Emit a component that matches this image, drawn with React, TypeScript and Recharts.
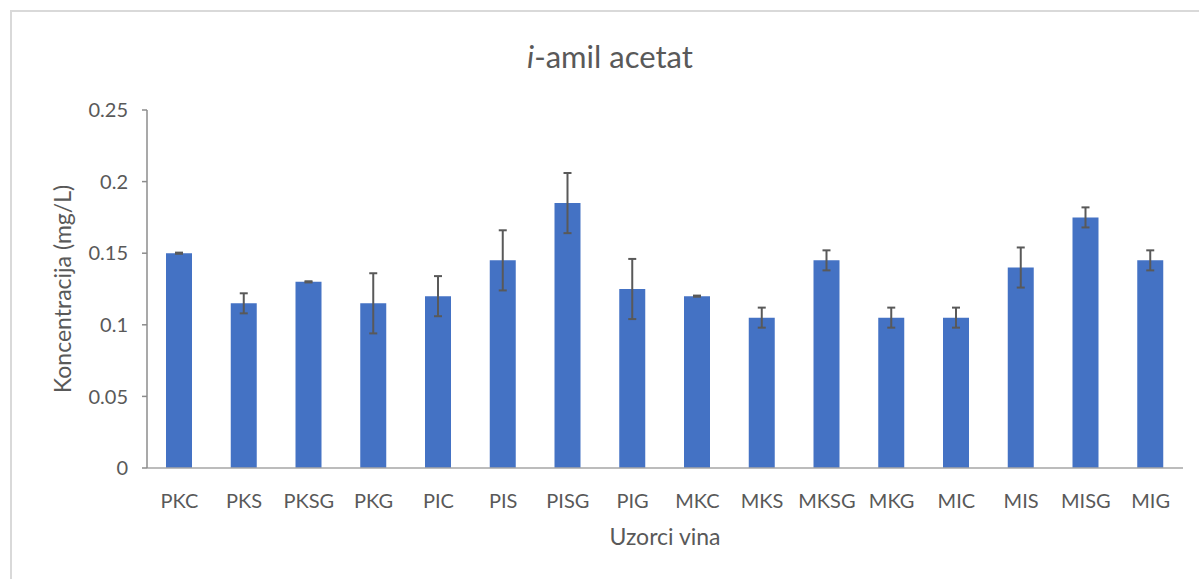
import React from "react";
import { BarChart, Bar, XAxis, YAxis, ErrorBar, Label } from "recharts";

const categories = ["PKC", "PKS", "PKSG", "PKG", "PIC", "PIS", "PISG", "PIG", "MKC", "MKS", "MKSG", "MKG", "MIC", "MIS", "MISG", "MIG"];
const values = [0.15, 0.115, 0.13, 0.115, 0.12, 0.145, 0.185, 0.125, 0.12, 0.105, 0.145, 0.105, 0.105, 0.14, 0.175, 0.145];
const errors = [0.0004, 0.007, 0.0004, 0.021, 0.014, 0.021, 0.021, 0.021, 0.0004, 0.007, 0.007, 0.007, 0.007, 0.014, 0.007, 0.007];
const yTicks = [0, 0.05, 0.1, 0.15, 0.2, 0.25];

const data = categories.map((name, i) => ({ name, value: values[i], err: errors[i] }));

const FONT = "Lato, 'Open Sans', sans-serif";
const TEXT = "#595959";

const App: React.FC = () => (
    <div style={{ position: "absolute", left: 0, top: 0, width: 1199, height: 579, overflow: "hidden", background: "#fff", fontFamily: FONT }}>
        <div
            style={{
                position: "absolute",
                left: 10,
                top: 10,
                width: 1220,
                height: 620,
                border: "2px solid #d9d9d9",
                boxSizing: "border-box",
            }}
        />
        <div
            style={{
                position: "absolute",
                left: 0,
                top: 38,
                width: 1220,
                textAlign: "center",
                fontSize: 31,
                lineHeight: "36px",
                color: TEXT,
            }}
        >
            <i>i</i>-amil acetat
        </div>
        <div style={{ position: "absolute", left: 0, top: 0 }}>
            <BarChart
                width={1199}
                height={579}
                data={data}
                margin={{ top: 110, right: 16, bottom: 31, left: 20 }}
            >
                <XAxis
                    dataKey="name"
                    height={80}
                    tickLine={false}
                    tickSize={0}
                    tickMargin={26}
                    axisLine={{ stroke: "#a6a6a6", strokeWidth: 1.5 }}
                    tick={{ fill: TEXT, fontSize: 20, fontFamily: FONT }}
                    interval={0}
                >
                    <Label
                        value="Uzorci vina"
                        position="insideBottom"
                        offset={3}
                        style={{ fill: TEXT, fontSize: 23, fontFamily: FONT }}
                    />
                </XAxis>
                <YAxis
                    width={127}
                    domain={[0, 0.25]}
                    ticks={yTicks}
                    tickSize={5}
                    tickMargin={14}
                    axisLine={{ stroke: "#8c8c8c", strokeWidth: 1.5 }}
                    tickLine={{ stroke: "#8c8c8c", strokeWidth: 1.5 }}
                    tick={{ fill: TEXT, fontSize: 20, fontFamily: FONT }}
                    tickFormatter={(v: number) => String(v)}
                >
                    <Label
                        value="Koncentracija (mg/L)"
                        angle={-90}
                        position="insideLeft"
                        offset={43}
                        style={{ fill: TEXT, fontSize: 23, fontFamily: FONT, textAnchor: "middle" }}
                    />
                </YAxis>
                <Bar dataKey="value" fill="#4472C4" barSize={26} isAnimationActive={false}>
                    <ErrorBar dataKey="err" width={4} stroke="#595959" strokeWidth={2} isAnimationActive={false} />
                </Bar>
            </BarChart>
        </div>
    </div>
);

export default App;
